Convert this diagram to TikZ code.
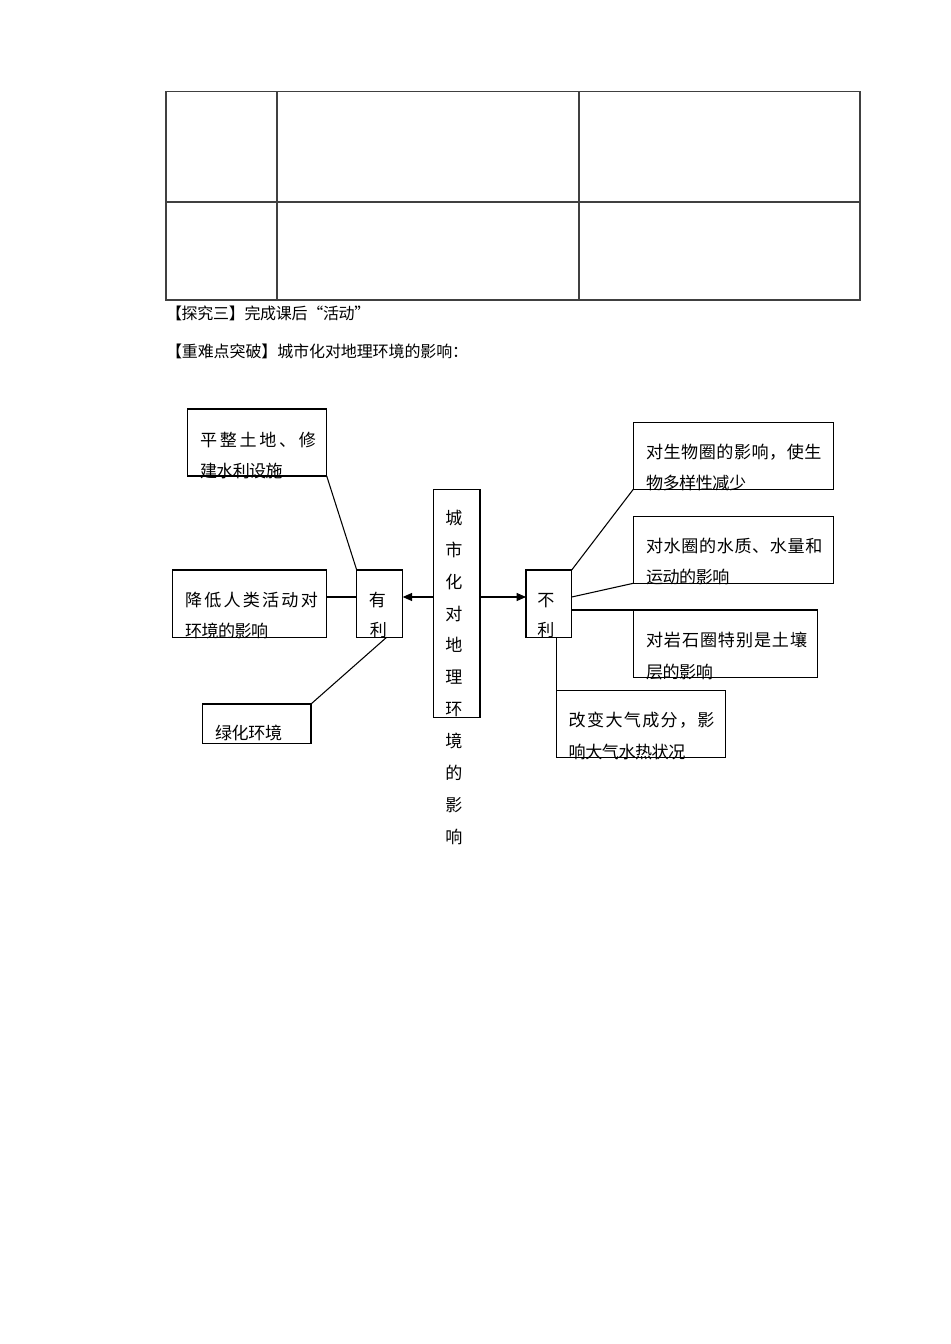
\documentclass[tikz,border=0pt]{standalone}
\usepackage{fontspec}
\setmainfont{Noto Sans CJK SC}
\usetikzlibrary{arrows.meta,calc}
\newdimen\pxu \pxu=0.75pt
\makeatletter
\newcommand\spc[2]{\def\spc@p{#1}\spc@loop#2\relax}
\def\spc@loop#1{\ifx#1\relax\else\makebox[\spc@p\pxu][l]{#1}\expandafter\spc@loop\fi}
\makeatother
\tikzset{
  box/.style n args={2}{draw=black, line width=0.8pt, inner sep=0pt, outer sep=0pt,
    minimum width=#1*0.75pt, minimum height=#2*0.75pt},
  txt/.style={inner sep=0pt, outer sep=0pt, anchor=base west, font=\fontsize{12.8pt}{15pt}\selectfont},
  ttl/.style={inner sep=0pt, outer sep=0pt, anchor=base west, font=\fontsize{12pt}{14pt}\selectfont},
  ch/.style={inner sep=0pt, outer sep=0pt, anchor=base, font=\fontsize{12.8pt}{15pt}\selectfont},
  conn/.style={draw=black, line width=0.8pt},
  arr/.style={conn, -{Triangle[length=7pt,width=6pt]}},
  tab/.style={draw=black!75, line width=0.8pt}
}
\begin{document}
\begin{tikzpicture}[x=0.75pt,y=-0.75pt]
\useasboundingbox (0,0) rectangle (950,1344);
% table
\draw[tab] (166,91.5) rectangle (860,300);
\draw[tab] (166,202) -- (860,202);
\draw[tab] (277,91.5) -- (277,300);
\draw[tab] (579,91.5) -- (579,300);
\node[ttl] (h1) at (166,320) {\spc{15.7}{【探究三】完成课后“活动”}};
\node[ttl] (h2) at (166,357) {\spc{15.9}{【重难点突破】城市化对地理环境的影响：}};
% boxes
\node[box={139}{67}] (pz) at (257.2,442.5) {};
\node[box={154.4}{67.3}] (jd) at (249.5,603.65) {};
\node[box={46}{67.3}] (yl) at (379.7,603.65) {};
\node[box={108.3}{39.3}] (lh) at (256.85,723.65) {};
\node[box={46.7}{228}] (cen) at (456.65,603.3) {};
\node[box={45.7}{67.3}] (bl) at (548.85,603.65) {};
\node[box={200}{66.6}] (sw) at (733.3,456) {};
\node[box={200}{66.6}] (sq) at (733.3,550) {};
\node[box={184.4}{67.3}] (ys) at (725.5,643.65) {};
\node[box={169}{67}] (dq) at (641.2,724.2) {};
% texts
\node[txt] (pz1) at (200,446.5) {\spc{19.8}{平整土地、修}};
\node[txt] (pz2) at (200,477) {\spc{16.4}{建水利设施}};
\node[txt] (jd1) at (185,606.5) {\spc{19.3}{降低人类活动对}};
\node[txt] (jd2) at (185,637) {\spc{16.5}{环境的影响}};
\node[ch] (yl1) at (377.5,606.5) {有};
\node[ch] (yl2) at (378.5,636.5) {利};
\node[txt] (lh1) at (215,739.5) {\spc{16.7}{绿化环境}};
\foreach \c [count=\i from 0] in {城,市,化,对,地,理,环,境,的,影,响}
  \node[ch] (c\i) at (454,{524.5+31.85*\i}) {\c};
\node[ch] (bl1) at (546,606.5) {不};
\node[ch] (bl2) at (546,636.5) {利};
\node[txt] (sw1) at (646,458.2) {\spc{17.6}{对生物圈的影响，使生}};
\node[txt] (sw2) at (646,489.5) {\spc{16.6}{物多样性减少}};
\node[txt] (sq1) at (646,552.5) {\spc{17.7}{对水圈的水质、水量和}};
\node[txt] (sq2) at (646,583.2) {\spc{16.6}{运动的影响}};
\node[txt] (ys1) at (646,646.5) {\spc{18}{对岩石圈特别是土壤}};
\node[txt] (ys2) at (646,678) {\spc{16.6}{层的影响}};
\node[txt] (dq1) at (568.7,726.5) {\spc{18.4}{改变大气成分，影}};
\node[txt] (dq2) at (568.7,758) {\spc{16.6}{响大气水热状况}};
% helper coordinates
\coordinate (ay) at (0,597);
\coordinate (by) at (0,610);
% connectors left
\draw[conn] (pz.south east) -- (yl.north west);
\draw[conn] (jd.east |- ay) -- (yl.west |- ay);
\draw[conn] (lh.north east) -- ($(yl.south west)!0.65!(yl.south east)$);
\draw[arr] (cen.west |- ay) -- (yl.east |- ay);
\draw[arr] (cen.east |- ay) -- (bl.west |- ay);
% connectors right
\draw[conn] (bl.north east) -- (sw.south west);
\draw[conn] (bl.east |- ay) -- (sq.south west);
\draw[conn] (bl.east |- by) -- (ys.north west);
\draw[conn] (dq.north west |- bl.south) -- (dq.north west);
\end{tikzpicture}
\end{document}
